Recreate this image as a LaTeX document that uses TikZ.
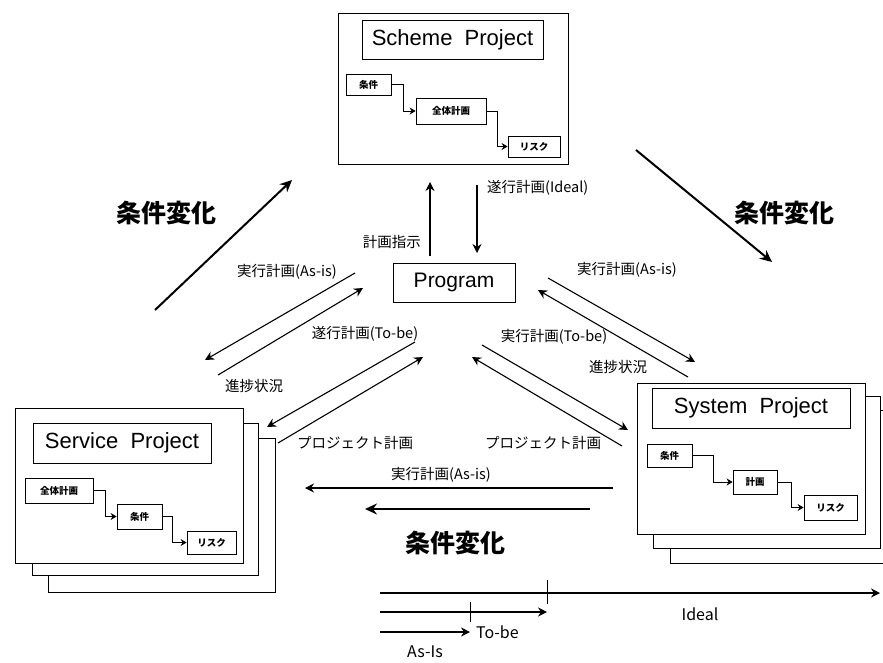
\documentclass[tikz,border=0pt]{standalone}
\usepackage{fontspec}
\setsansfont{Liberation Sans}
\newfontfamily\jp{Noto Sans CJK JP}
\usetikzlibrary{arrows.meta,positioning}
\tikzset{
  frame/.style={draw, fill=white, line width=0.9pt},
  titlebox/.style={draw, line width=0.8pt, fill=white, font=\sffamily\fontsize{22}{22}\selectfont, inner sep=0pt},
  sbox/.style={draw, line width=0.8pt, fill=white, inner sep=0pt, font=\jp\bfseries\fontsize{9.5}{10}\selectfont},
  lbl/.style={font=\jp\fontsize{14.5}{15}\selectfont, inner sep=0pt},
  biglbl/.style={font=\jp\bfseries\fontsize{25}{26}\selectfont, inner sep=0pt},
  tlbl/.style={font=\jp\fontsize{16}{16}\selectfont, inner sep=0pt},
  arr/.style={line width=1.1pt, -{Stealth[length=9pt,width=9pt,inset=3pt]}},
  bigarr/.style={line width=2pt, -{Stealth[length=12pt,width=11pt,inset=4pt]}},
  sconn/.style={line width=0.8pt, -{Stealth[length=6pt,width=7pt,inset=2pt]}},
  tick/.style={line width=1pt}
}
\begin{document}
\begin{tikzpicture}[x=1pt,y=-1pt]
\useasboundingbox[fill=white] (0,0) rectangle (883,662);

% ---------------- Scheme Project ----------------
\node[frame, minimum width=230pt, minimum height=151pt] (scheme) at (453,89) {};
\node[titlebox, minimum width=181pt, minimum height=39pt] (schemeT) at (452.5,39.5) {Scheme\ \ Project};
\node[sbox, minimum width=45pt, minimum height=21pt] (sc1) at (368.5,84.5) {条件};
\node[sbox, minimum width=70pt, minimum height=26pt] (sc2) at (451,111) {全体計画};
\node[sbox, minimum width=52pt, minimum height=21pt] (sc3) at (534,146.5) {リスク};
\draw[sconn] (sc1.east) -- ++(12,0) |- (sc2.west);
\draw[sconn] (sc2.east) -- ++(11,0) |- (sc3.west);

% ---------------- Program ----------------
\node[draw, line width=0.8pt, minimum width=122pt, minimum height=39pt, inner sep=0pt,
      font=\sffamily\fontsize{21}{21}\selectfont] (prog) at (454,282.5) {Program};

% ---------------- Service Project ----------------
\node[frame, minimum width=227pt, minimum height=154pt] (sv3) at (161.5,515) {};
\node[frame, minimum width=226pt, minimum height=152pt] (sv2) at (145,499) {};
\node[frame, minimum width=228pt, minimum height=155pt] (sv1) at (129,485.5) {};
\node[titlebox, minimum width=178pt, minimum height=40pt] (svT) at (122,443) {Service\ \ Project};
\node[sbox, minimum width=68pt, minimum height=25pt] (sv_a) at (59,490.5) {全体計画};
\node[sbox, minimum width=45pt, minimum height=25pt] (sv_b) at (139.5,516.5) {条件};
\node[sbox, minimum width=49pt, minimum height=23pt] (sv_c) at (211.5,542.5) {リスク};
\draw[sconn] (sv_a.east) -- ++(12,0) |- (sv_b.west);
\draw[sconn] (sv_b.east) -- ++(10,0) |- (sv_c.west);

% ---------------- System Project ----------------
\path[draw, fill=white, line width=0.9pt] (890,410) -- (670,410) -- (670,563) -- (890,563);
\node[frame, minimum width=227pt, minimum height=152pt] (sy2) at (766.5,472) {};
\node[frame, minimum width=228pt, minimum height=151pt] (sy1) at (751,458.5) {};
\node[titlebox, minimum width=198pt, minimum height=40pt] (syT) at (751,408) {System\ \ Project};
\node[sbox, minimum width=45pt, minimum height=23pt] (sy_a) at (669.5,455.5) {条件};
\node[sbox, minimum width=44pt, minimum height=24pt] (sy_b) at (755,482) {計画};
\node[sbox, minimum width=53pt, minimum height=25pt] (sy_c) at (830.5,507.5) {リスク};
\draw[sconn] (sy_a.east) -- ++(21,0) |- (sy_b.west);
\draw[sconn] (sy_b.east) -- ++(14,0) |- (sy_c.west);

% ---------------- Scheme <-> Program ----------------
\coordinate (a1s) at (430,256); \coordinate (a1e) at (430,182);
\coordinate (a2s) at (477,185); \coordinate (a2e) at (477,253);
\draw[arr] (a1s) -- (a1e);
\draw[arr] (a2s) -- (a2e);
\node[lbl, anchor=east] (l_shiji) at (421,242) {計画指示};
\node[lbl, anchor=west] (l_ideal) at (487,188) {遂行計画(Ideal)};

% ---------------- Program <-> Service ----------------
\coordinate (l1s) at (355,273); \coordinate (l1e) at (205,360);
\coordinate (l2s) at (218,375); \coordinate (l2e) at (363,288);
\coordinate (l3s) at (415,342); \coordinate (l3e) at (267,427);
\coordinate (l4s) at (278,443); \coordinate (l4e) at (423,357);
\draw[arr] (l1s) -- (l1e);
\draw[arr] (l2s) -- (l2e);
\draw[arr] (l3s) -- (l3e);
\draw[arr] (l4s) -- (l4e);
\node[lbl] (l_asis_l) at (287,272) {実行計画(As-is)};
\node[lbl] (l_prog_l) at (254,386) {進捗状況};
\node[lbl] (l_tobe_l) at (365,334) {遂行計画(To-be)};
\node[lbl, anchor=west] (l_pj_l) at (297,443) {プロジェクト計画};

% ---------------- Program <-> System ----------------
\coordinate (r1s) at (548,278); \coordinate (r1e) at (695,362);
\coordinate (r2s) at (688,377); \coordinate (r2e) at (538,290);
\coordinate (r3s) at (482,345); \coordinate (r3e) at (628,430);
\coordinate (r4s) at (622,446); \coordinate (r4e) at (472,357);
\draw[arr] (r1s) -- (r1e);
\draw[arr] (r2s) -- (r2e);
\draw[arr] (r3s) -- (r3e);
\draw[arr] (r4s) -- (r4e);
\node[lbl] (l_asis_r) at (627,270) {実行計画(As-is)};
\node[lbl] (l_prog_r) at (618,367) {進捗状況};
\node[lbl] (l_tobe_r) at (554,337) {実行計画(To-be)};
\node[lbl] (l_pj_r) at (543,443) {プロジェクト計画};

% ---------------- System -> Service (bottom) ----------------
\coordinate (b1s) at (613,488); \coordinate (b1e) at (305,488);
\coordinate (b2s) at (590,509); \coordinate (b2e) at (365,509);
\draw[arr] (b1s) -- (b1e);
\draw[bigarr] (b2s) -- (b2e);
\node[lbl] (l_asis_b) at (441,475) {実行計画(As-is)};
\node[biglbl] (l_hen_b) at (455,543) {条件変化};

% ---------------- big condition-change arrows ----------------
\coordinate (gls) at (155,310); \coordinate (gle) at (292,180);
\coordinate (grs) at (636,150); \coordinate (gre) at (772,262);
\draw[bigarr] (gls) -- (gle);
\draw[bigarr] (grs) -- (gre);
\node[biglbl] (l_hen_l) at (166,213) {条件変化};
\node[biglbl] (l_hen_r) at (784,213) {条件変化};

% ---------------- time line ----------------
\coordinate (t1s) at (380,593); \coordinate (t1e) at (880,593);
\coordinate (t2s) at (380,612); \coordinate (t2e) at (547,612);
\coordinate (t3s) at (380,632); \coordinate (t3e) at (470,632);
\draw[arr] (t1s) -- (t1e);
\draw[arr] (t2s) -- (t2e);
\draw[arr] (t3s) -- (t3e);
\draw[tick] (547,580) -- (547,604);
\draw[tick] (470,602) -- (470,622);
\node[tlbl] (l_idl) at (700,614) {Ideal};
\node[tlbl, anchor=west] (l_tb) at (476,632) {To-be};
\node[tlbl] (l_ai) at (425,652) {As-Is};
\end{tikzpicture}
\end{document}
